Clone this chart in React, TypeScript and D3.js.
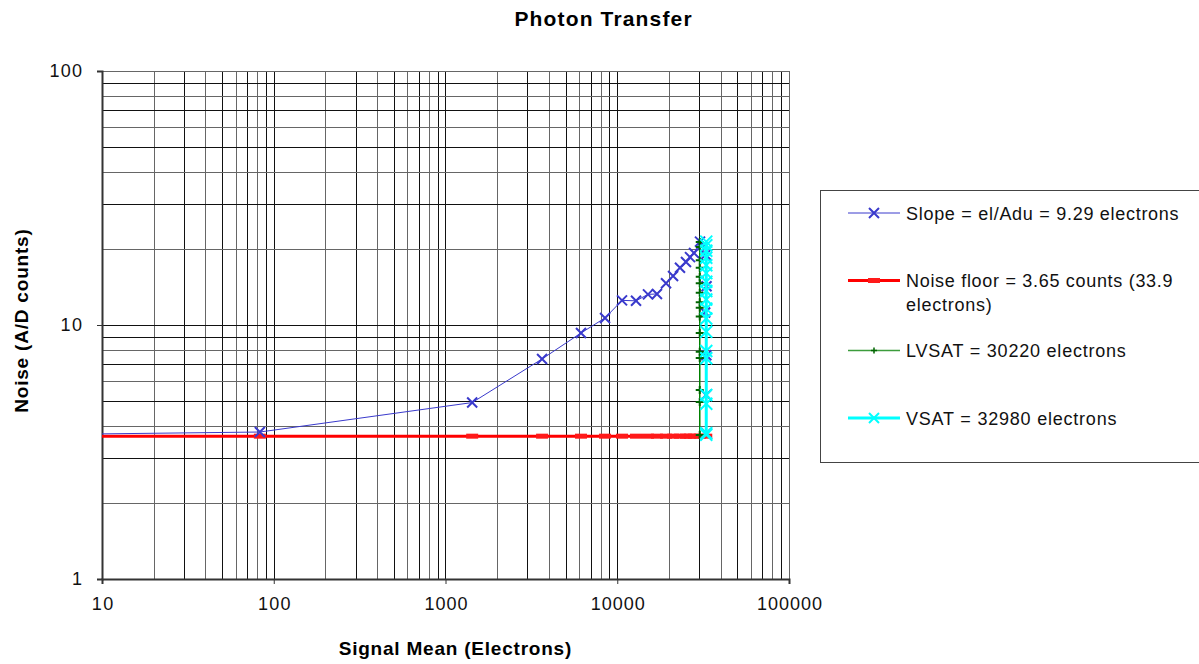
import React, { useEffect, useRef } from "react";
import * as d3 from "d3";

// Photon transfer curve data
const slopeX = [1, 83, 1430, 3650, 6150, 8490, 10660, 12860, 15100, 17030, 19230, 21130, 23190, 25130, 26530, 27990, 30330, 32700, 33100, 32500, 33000, 32900, 33000];
const slopeY = [3.66, 3.79, 4.95, 7.35, 9.3, 10.66, 12.5, 12.45, 13.2, 13.25, 14.6, 15.6, 16.8, 17.7, 18.5, 19.2, 21.3, 18.9, 14.2, 11.2, 7.6, 5.3, 3.75];

const floorX = [1, 83, 1430, 3650, 6150, 8490, 10660, 12860, 15100, 17030, 19230, 21130, 23190, 25130, 26530, 27990, 30330, 32980];
const floorY = 3.65;

const lvsatX = 30220;
const lvsatY = [3.69, 4.98, 5.55, 7.42, 7.84, 9.3, 10.8, 11.7, 12.3, 13.4, 14.6, 15.5, 16.8, 18.0, 20.3, 21.2];

const vsatX = 32980;
const vsatY = [3.7, 3.75, 4.9, 5.3, 7.4, 7.9, 9.4, 10.6, 11.6, 12.6, 13.6, 14.8, 16.0, 17.2, 18.4, 19.6, 20.6, 21.3];

const xTicks = [10, 100, 1000, 10000, 100000];
const yTicks = [1, 10, 100];

const legendLabels = [
  ["Slope = el/Adu = 9.29 electrons"],
  ["Noise floor = 3.65 counts (33.9", "electrons)"],
  ["LVSAT = 30220 electrons"],
  ["VSAT = 32980 electrons"],
];

const FONT = "'Liberation Sans', Arial, Helvetica, sans-serif";
const STRETCH = 1.085; // reference text is a bit wider than Arial metrics

export default function App() {
  const ref = useRef<SVGSVGElement>(null);

  useEffect(() => {
    const svg = d3.select(ref.current);
    svg.selectAll("*").remove();

    const left = 102, right = 789, top = 71, bottom = 579;
    const x = d3.scaleLog().domain([10, 100000]).range([left, right]);
    const y = d3.scaleLog().domain([1, 100]).range([bottom, top]);

    const widen = (sel: any, k = STRETCH) => {
      sel.each(function (this: SVGTextElement) {
        const w = this.getComputedTextLength();
        d3.select(this).attr("textLength", w * k).attr("lengthAdjust", "spacing");
      });
    };

    svg.append("defs").append("clipPath").attr("id", "plotclip")
      .append("rect").attr("x", left).attr("y", top - 8).attr("width", right - left + 10).attr("height", bottom - top + 8);

    // grid
    const minorX: number[] = [];
    for (let d = 10; d < 100000; d *= 10) for (let k = 1; k <= 10; k++) minorX.push(d * k);
    const minorY: number[] = [];
    for (let d = 1; d < 100; d *= 10) for (let k = 1; k <= 10; k++) minorY.push(d * k);

    const grid = svg.append("g").attr("shape-rendering", "crispEdges");
    grid.selectAll(".gx").data(minorX).join("line")
      .attr("x1", d => Math.round(x(d)) + 0.5).attr("x2", d => Math.round(x(d)) + 0.5)
      .attr("y1", top).attr("y2", bottom)
      .attr("stroke", (d, i) => (i % 2 ? "#666" : "#111")).attr("stroke-width", 1);
    grid.selectAll(".gy").data(minorY).join("line")
      .attr("y1", d => Math.round(y(d)) + 0.5).attr("y2", d => Math.round(y(d)) + 0.5)
      .attr("x1", left).attr("x2", right)
      .attr("stroke", (d, i) => (i % 2 ? "#666" : "#111")).attr("stroke-width", 1);

    // axes
    const fmt = d3.format("d");
    const xa = svg.append("g").attr("transform", `translate(0,${bottom})`)
      .call(d3.axisBottom(x).tickValues(xTicks).tickFormat(d => fmt(d as number)).tickSize(5).tickPadding(13));
    const ya = svg.append("g").attr("transform", `translate(${left},0)`)
      .call(d3.axisLeft(y).tickValues(yTicks).tickFormat(d => fmt(d as number)).tickSize(5).tickPadding(15));
    [xa, ya].forEach(a => {
      a.select(".domain").attr("stroke", "#333").attr("stroke-width", 2);
      a.selectAll(".tick line").attr("stroke", "#333");
      a.selectAll(".tick text").attr("font-family", FONT).attr("font-size", 18).attr("fill", "#111");
    });
    widen(xa.selectAll(".tick text"), 1.08);
    widen(ya.selectAll(".tick text"), 1.08);

    const plot = svg.append("g").attr("clip-path", "url(#plotclip)");

    const line = d3.line<[number, number]>().x(d => x(d[0])).y(d => y(d[1]));

    // noise floor
    const floorPts = floorX.map(v => [v, floorY] as [number, number]);
    plot.append("path").attr("d", line(floorPts)).attr("fill", "none").attr("stroke", "#ff0000").attr("stroke-width", 3);
    plot.selectAll(".fm").data(floorPts).join("rect")
      .attr("x", d => x(d[0]) - 6).attr("y", d => y(d[1]) - 2.5).attr("width", 12).attr("height", 5).attr("fill", "#ff1a1a");

    // slope
    const slopePts = slopeX.map((v, i) => [v, slopeY[i]] as [number, number]);
    const blue = "#3a3acc";
    plot.append("path").attr("d", line(slopePts)).attr("fill", "none").attr("stroke", blue).attr("stroke-width", 1);
    const cross = (g: any, pts: [number, number][], s: number, color: string, w: number) => {
      g.selectAll(null).data(pts).join("path")
        .attr("d", (d: [number, number]) => {
          const cx = x(d[0]), cy = y(d[1]);
          return `M${cx - s},${cy - s}L${cx + s},${cy + s}M${cx - s},${cy + s}L${cx + s},${cy - s}`;
        })
        .attr("stroke", color).attr("stroke-width", w).attr("fill", "none");
    };
    cross(plot, slopePts, 5, blue, 2);

    // LVSAT
    const lvPts = lvsatY.map(v => [lvsatX, v] as [number, number]);
    plot.append("path").attr("d", line(lvPts)).attr("fill", "none").attr("stroke", "#008000").attr("stroke-width", 1.5);
    plot.selectAll(".lm").data(lvPts).join("path")
      .attr("d", d => { const cx = x(d[0]), cy = y(d[1]); return `M${cx - 4},${cy}L${cx + 4},${cy}M${cx},${cy - 4}L${cx},${cy + 4}`; })
      .attr("stroke", "#006400").attr("stroke-width", 2);

    // VSAT
    const vPts = vsatY.map(v => [vsatX, v] as [number, number]);
    plot.append("path").attr("d", line(vPts)).attr("fill", "none").attr("stroke", "#00ffff").attr("stroke-width", 3);
    cross(plot, vPts, 6, "#00ffff", 2);

    // titles
    widen(svg.append("text").attr("x", 603).attr("y", 26).attr("text-anchor", "middle")
      .attr("font-family", FONT).attr("font-weight", "bold").attr("font-size", 21).text("Photon Transfer"), 1.1);
    widen(svg.append("text").attr("x", 455).attr("y", 655).attr("text-anchor", "middle")
      .attr("font-family", FONT).attr("font-weight", "bold").attr("font-size", 19).text("Signal Mean (Electrons)"), 1.08);
    widen(svg.append("text").attr("transform", `translate(28,321) rotate(-90)`).attr("text-anchor", "middle")
      .attr("font-family", FONT).attr("font-weight", "bold").attr("font-size", 19).text("Noise (A/D counts)"), 1.08);

    // legend
    const lg = svg.append("g");
    lg.append("rect").attr("x", 820.5).attr("y", 190.5).attr("width", 400).attr("height", 272)
      .attr("fill", "white").attr("stroke", "#444").attr("stroke-width", 1);
    const rowY = [213, 280.5, 350.5, 418];
    const lx1 = 848, lx2 = 900, mx = 874;
    const styles = [
      { color: blue, w: 1 }, { color: "#ff0000", w: 3 }, { color: "#3c9c3c", w: 1.5 }, { color: "#00ffff", w: 3 },
    ];
    rowY.forEach((ry, i) => {
      lg.append("line").attr("x1", lx1).attr("x2", lx2).attr("y1", ry).attr("y2", ry)
        .attr("stroke", styles[i].color).attr("stroke-width", styles[i].w);
      legendLabels[i].forEach((t, j) => {
        widen(lg.append("text").attr("x", 906).attr("y", ry + 6.5 + j * 23.5)
          .attr("font-family", FONT).attr("font-size", 18).attr("fill", "#111").text(t));
      });
    });
    const s = 5;
    lg.append("path").attr("d", `M${mx - s},${rowY[0] - s}L${mx + s},${rowY[0] + s}M${mx - s},${rowY[0] + s}L${mx + s},${rowY[0] - s}`)
      .attr("stroke", blue).attr("stroke-width", 2);
    lg.append("rect").attr("x", mx - 6).attr("y", rowY[1] - 2.5).attr("width", 12).attr("height", 5).attr("fill", "#ff1a1a");
    lg.append("path").attr("d", `M${mx - 3},${rowY[2]}L${mx + 3},${rowY[2]}M${mx},${rowY[2] - 3}L${mx},${rowY[2] + 3}`)
      .attr("stroke", "#006400").attr("stroke-width", 1.5);
    lg.append("path").attr("d", `M${mx - s},${rowY[3] - s}L${mx + s},${rowY[3] + s}M${mx - s},${rowY[3] + s}L${mx + s},${rowY[3] - s}`)
      .attr("stroke", "#00ffff").attr("stroke-width", 2);
  }, []);

  return (
    <svg ref={ref} width={1199} height={664}
      style={{ position: "absolute", left: 0, top: 0, background: "white" }} />
  );
}
